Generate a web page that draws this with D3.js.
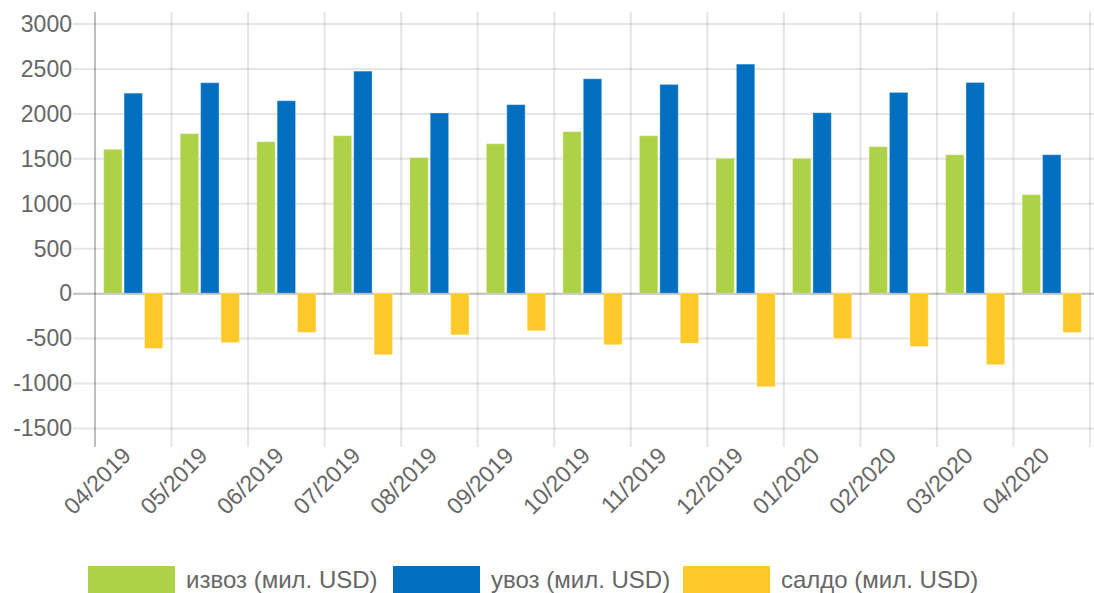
<!DOCTYPE html>
<html>
<head>
<meta charset="utf-8">
<script src="https://cdn.jsdelivr.net/npm/d3@7"></script>
<style>
  body { margin: 0; background: #fff; }
  svg { display: block; font-family: "Liberation Sans", Arial, sans-serif; }
</style>
</head>
<body>
<div id="chart"></div>
<script>
// data (мил. USD)
const months = ["04/2019", "05/2019", "06/2019", "07/2019", "08/2019", "09/2019", "10/2019",
  "11/2019", "12/2019", "01/2020", "02/2020", "03/2020", "04/2020"];
const izvoz = [1600, 1775, 1685, 1752, 1508, 1663, 1797, 1752, 1500, 1500, 1630, 1540, 1096];
const uvoz = [2225, 2341, 2141, 2470, 2005, 2097, 2385, 2322, 2548, 2007, 2233, 2344, 1540];
const saldo = [-615, -549, -437, -685, -463, -419, -574, -556, -1041, -504, -593, -796, -437];
const seriesNames = ["извоз (мил. USD)", "увоз (мил. USD)", "салдо (мил. USD)"];
const seriesColors = ["#aed247", "#006fc0", "#ffc92a"];
const yTicks = [-1500, -1000, -500, 0, 500, 1000, 1500, 2000, 2500, 3000];

const W = 1094, H = 593;
const plotLeft = 95, plotRight = 1090, plotTop = 12, plotBottom = 438;

const svg = d3.select("#chart").append("svg")
  .attr("width", W)
  .attr("height", H);

const seriesData = [izvoz, uvoz, saldo];

// scales
const x0 = d3.scaleBand().domain(months).range([plotLeft, plotRight]);
const x1 = d3.scaleBand().domain(d3.range(3)).range([0, x0.bandwidth()])
  .paddingInner(0.1).paddingOuter(0.425);
const y = d3.scaleLinear().domain([-1500, 3000]).range([428, 23.5]);

// horizontal grid + tick marks
svg.append("g")
  .selectAll("line")
  .data(yTicks)
  .join("line")
  .attr("x1", plotLeft - 22)
  .attr("x2", W)
  .attr("y1", d => y(d) + 0.5)
  .attr("y2", d => y(d) + 0.5)
  .attr("stroke", d => d === 0 ? "rgba(0,0,0,0.25)" : "rgba(0,0,0,0.1)")
  .attr("stroke-width", 2);

// vertical grid
svg.append("g")
  .selectAll("line")
  .data(months.map(m => x0(m)).concat([plotRight]))
  .join("line")
  .attr("x1", d => d)
  .attr("x2", d => d)
  .attr("y1", plotTop)
  .attr("y2", plotBottom + 9)
  .attr("stroke", (d, i) => i === 0 ? "rgba(0,0,0,0.25)" : "rgba(0,0,0,0.1)")
  .attr("stroke-width", 2);

// y labels
svg.append("g")
  .selectAll("text")
  .data(yTicks)
  .join("text")
  .attr("x", 72)
  .attr("y", d => y(d))
  .attr("dy", "0.36em")
  .attr("text-anchor", "end")
  .attr("fill", "#666")
  .style("font-size", "23px")
  .text(d => d);

// bars
const groups = svg.append("g")
  .selectAll("g")
  .data(months)
  .join("g")
  .attr("transform", d => `translate(${x0(d)},0)`);

groups.selectAll("rect")
  .data((m, i) => seriesData.map((s, k) => ({ k: k, v: s[i] })))
  .join("rect")
  .attr("x", d => x1(d.k))
  .attr("width", x1.bandwidth())
  .attr("y", d => y(Math.max(0, d.v)))
  .attr("height", d => Math.abs(y(d.v) - y(0)))
  .attr("fill", d => seriesColors[d.k])
  .attr("stroke", "rgba(255,255,255,0.3)")
  .attr("stroke-width", 1);

// x labels
svg.append("g")
  .selectAll("text")
  .data(months)
  .join("text")
  .attr("transform", d => `translate(${x0(d) + x0.bandwidth() / 2 - 1},${plotBottom + 19}) rotate(-45)`)
  .attr("text-anchor", "end")
  .attr("fill", "#666")
  .style("font-size", "23px")
  .text(d => d);

// legend
const legendX = [88, 393, 683];
const items = svg.append("g")
  .selectAll("g")
  .data(seriesNames)
  .join("g")
  .attr("transform", (d, i) => `translate(${legendX[i]},0)`);
items.append("rect")
  .attr("y", 566)
  .attr("width", 87)
  .attr("height", 30)
  .attr("fill", (d, i) => seriesColors[i]);
items.append("text")
  .attr("x", 98)
  .attr("y", 588)
  .attr("fill", "#666")
  .style("font-size", "24px")
  .text(d => d);
</script>
</body>
</html>
